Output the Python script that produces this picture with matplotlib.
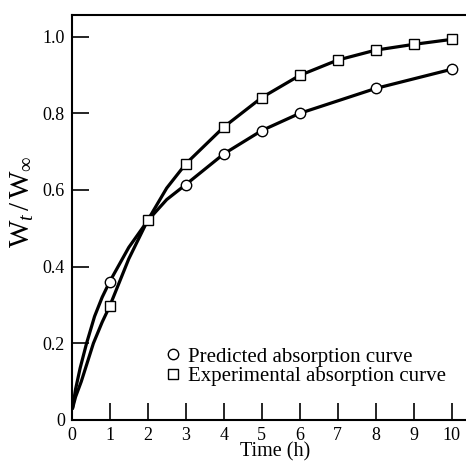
"""Fractional absorption W_t/W_inf vs time: predicted vs experimental."""

from matplotlib import pyplot as plt

plt.switch_backend("Agg")

plt.rcParams["font.family"] = ["Liberation Serif", "DejaVu Serif"]
plt.rcParams["mathtext.fontset"] = "custom"
plt.rcParams["mathtext.rm"] = "Liberation Serif"
plt.rcParams["mathtext.it"] = "Liberation Serif:italic"

# marker values
pred_t = [1, 3, 4, 5, 6, 8, 10]
pred_w = [0.361, 0.614, 0.694, 0.755, 0.800, 0.865, 0.915]
exp_t = [1, 2, 3, 4, 5, 6, 7, 8, 9, 10]
exp_w = [0.297, 0.521, 0.668, 0.764, 0.841, 0.899, 0.939, 0.965, 0.980, 0.993]

# points (the curves start just above zero)
pred_curve_t = [0.02, 0.1, 0.22, 0.39, 0.6, 0.8, 1, 1.5, 2, 2.5, 3, 4, 5, 6, 8, 10]
pred_curve_w = [0.03, 0.08, 0.135, 0.20, 0.27, 0.32, 0.361, 0.45, 0.52, 0.575,
                0.614, 0.694, 0.755, 0.800, 0.865, 0.915]
exp_curve_t = [0.02, 0.1, 0.25, 0.57, 0.8, 1, 1.5, 2, 2.5, 3, 4, 5, 6, 7, 8, 9, 10]
exp_curve_w = [0.03, 0.06, 0.10, 0.20, 0.255, 0.297, 0.42, 0.521, 0.605,
               0.668, 0.764, 0.841, 0.899, 0.939, 0.965, 0.980, 0.993]

x_ticks = [0, 1, 2, 3, 4, 5, 6, 7, 8, 9, 10]
y_ticks = [0, 0.2, 0.4, 0.6, 0.8, 1.0]
y_tick_labels = ["0", "0.2", "0.4", "0.6", "0.8", "1.0"]

fig = plt.figure(figsize=(4.66, 4.65), dpi=100)
ax = fig.add_axes([0.154, 0.097, 0.846, 0.871])

LW = 2.3
ax.plot(pred_curve_t, pred_curve_w, color="black", linewidth=LW, solid_capstyle="round")
ax.plot(exp_curve_t, exp_curve_w, color="black", linewidth=LW, solid_capstyle="round")

ax.plot(pred_t, pred_w, "o", markersize=7.5, markerfacecolor="white",
        markeredgecolor="black", markeredgewidth=1.0, zorder=5)
ax.plot(exp_t, exp_w, "s", markersize=7.5, markerfacecolor="white",
        markeredgecolor="black", markeredgewidth=1.0, zorder=5)

# legend handles (markers only)
h_pred, = ax.plot([], [], "o", markersize=7.5, markerfacecolor="white",
                  markeredgecolor="black", markeredgewidth=1.0)
h_exp, = ax.plot([], [], "s", markersize=7, markerfacecolor="white",
                 markeredgecolor="black", markeredgewidth=1.0)
ax.legend([h_pred, h_exp], ["Predicted absorption curve", "Experimental absorption curve"],
          loc="upper left", bbox_to_anchor=(0.242, 0.18), frameon=False,
          fontsize=15, handlelength=0.6, handletextpad=0.4, labelspacing=0.0,
          borderaxespad=0, borderpad=0)

ax.set_xlim(0, 10.38)
ax.set_ylim(0, 1.057)
ax.set_xticks(x_ticks)
ax.set_yticks(y_ticks)
ax.set_yticklabels(y_tick_labels)
ax.tick_params(direction="in", length=12, width=1.2, labelsize=13, pad=5)

ax.spines["right"].set_visible(False)
for side in ("left", "bottom", "top"):
    ax.spines[side].set_linewidth(1.5)

ax.set_xlabel("Time (h)", fontsize=14.5, labelpad=0)
ax.xaxis.set_label_coords(0.516, -0.055)
ax.set_ylabel(r"$\mathrm{W}_{t}\,/\,\mathrm{W}_{\infty}$", fontsize=21)
ax.yaxis.set_label_coords(-0.09, 0.54)

fig.savefig("out.png", dpi=100)
plt.close(fig)
